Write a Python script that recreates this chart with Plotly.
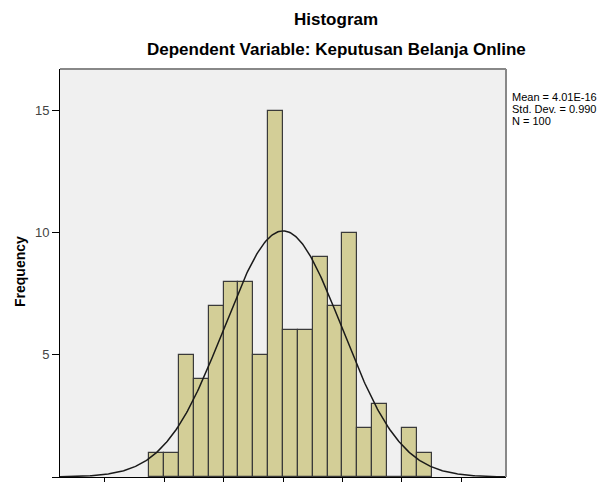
import numpy as np
import plotly.graph_objects as go

# ---- data ----
bin_left = [-2.25, -2.0, -1.75, -1.5, -1.25, -1.0, -0.75, -0.5, -0.25, 0.0,
            0.25, 0.5, 0.75, 1.0, 1.25, 1.5, 1.75, 2.0, 2.25]
counts = [1, 1, 5, 4, 7, 8, 8, 5, 15, 6, 6, 9, 7, 10, 2, 3, 0, 2, 1]
bin_width = 0.25
mean_val = 4.01e-16
std_val = 0.990
n_val = 100
x_ticks = [-3, -2, -1, 0, 1, 2, 3]
y_ticks = [0, 5, 10, 15]
stats_lines = ["Mean = 4.01E-16", "Std. Dev. = 0.990", "N = 100"]
title_text = "Histogram"
subtitle_text = "Dependent Variable: Keputusan Belanja Online"
y_title = "Frequency"

x_range = [-3.75, 3.75]
y_range = [0, 16.7]

W, H = 606, 482
L, R, T, B = 60, 100, 69, 5

centers = [b + bin_width / 2 for b in bin_left]

# fitted normal curve (scaled to counts)
xc = np.linspace(x_range[0], x_range[1], 400)
yc = n_val * bin_width * np.exp(-0.5 * ((xc - mean_val) / std_val) ** 2) / (std_val * np.sqrt(2 * np.pi))

fig = go.Figure()
fig.add_trace(go.Bar(
    x=centers, y=counts, width=bin_width,
    marker=dict(color="#D3CE97", line=dict(color="#3a3a3a", width=1.2)),
    hoverinfo="skip", showlegend=False,
))
fig.add_trace(go.Scatter(
    x=xc, y=yc, mode="lines",
    line=dict(color="#1a1a1a", width=1.5),
    hoverinfo="skip", showlegend=False,
))

font = "Liberation Sans, Arial, sans-serif"
fig.update_layout(
    width=W, height=H,
    margin=dict(l=L, r=R, t=T, b=B, autoexpand=False),
    paper_bgcolor="white",
    plot_bgcolor="#F0F0F0",
    bargap=0,
    font=dict(family=font, size=13, color="#444444"),
    xaxis=dict(
        range=x_range, tickvals=x_ticks, showticklabels=False,
        ticks="outside", ticklen=7, tickcolor="black", tickwidth=1,
        showline=True, linecolor="black", linewidth=1,
        showgrid=False, zeroline=False, fixedrange=True, automargin=False,
    ),
    yaxis=dict(
        range=y_range, tickvals=y_ticks,
        ticks="outside", ticklen=7, tickcolor="black", tickwidth=1,
        showline=True, linecolor="black", linewidth=1,
        showgrid=False, zeroline=False, fixedrange=True, automargin=False,
        tickfont=dict(family=font, size=13, color="#444444"),
    ),
)

# gray frame on top and right
fig.add_shape(type="line", xref="paper", yref="paper", x0=0, x1=1, y0=1, y1=1,
              line=dict(color="#888888", width=2))
fig.add_shape(type="line", xref="paper", yref="paper", x0=1, x1=1, y0=0, y1=1,
              line=dict(color="#888888", width=2))

pw = W - L - R
ph = H - T - B

def px_x(px):
    return (px - L) / pw

def px_y(py):
    return 1 - (py - T) / ph

fig.add_annotation(text="<b>" + title_text + "</b>", xref="paper", yref="paper",
                   x=px_x(336), y=px_y(19), showarrow=False,
                   font=dict(family=font, size=17, color="black"),
                   xanchor="center", yanchor="middle")
fig.add_annotation(text="<b>" + subtitle_text + "</b>", xref="paper", yref="paper",
                   x=px_x(336), y=px_y(50), showarrow=False,
                   font=dict(family=font, size=17, color="black"),
                   xanchor="center", yanchor="middle")
fig.add_annotation(text="<b>" + y_title + "</b>", xref="paper", yref="paper",
                   x=px_x(20), y=px_y(272), showarrow=False, textangle=-90,
                   font=dict(family=font, size=14, color="black"),
                   xanchor="center", yanchor="middle")
for i, s in enumerate(stats_lines):
    fig.add_annotation(text=s, xref="paper", yref="paper",
                       x=px_x(510), y=px_y(97.5 + 11.5 * i), showarrow=False,
                       font=dict(family=font, size=11, color="black"),
                       xanchor="left", yanchor="middle")

fig.write_html("out.html",
               config={"displayModeBar": False},
               post_script="document.body.style.margin='0';document.body.style.padding='0';")
